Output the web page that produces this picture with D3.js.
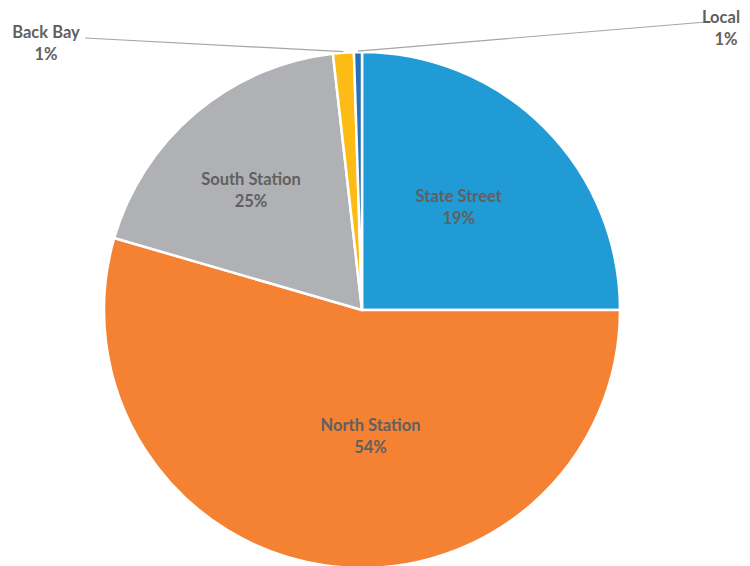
<!DOCTYPE html>
<meta charset="utf-8">
<style>
  body { margin: 0; background: #fff; }
  svg { display: block; font-family: Lato, "Open Sans", sans-serif; }
</style>
<svg width="750" height="566"></svg>
<script src="https://d3js.org/d3.v7.min.js"></script>
<script>

// slice order follows the chart, clockwise from 12 o'clock
var stations = ["State Street", "North Station", "South Station", "Back Bay", "Local"],
    shares = [25, 54.5, 18.7, 1.3, 0.5],
    shareLabels = ["19%", "54%", "25%", "1%", "1%"],
    colors = ["#219bd6", "#f58133", "#b0b1b4", "#fdbb15", "#2472b9"];

var width = 750,
    height = 566,
    cx = 362,
    cy = 310,
    radius = 258,
    fontSize = 16.5;

var svg = d3.select("svg"),
    g = svg.append("g").attr("transform", "translate(" + cx + "," + cy + ")");

var pie = d3.pie().sort(null).value(function(d) { return d; }),
    arcs = pie(shares),
    arc = d3.arc().innerRadius(0).outerRadius(radius);

g.selectAll("path.slice")
    .data(arcs)
  .enter().append("path")
    .attr("class", "slice")
    .attr("d", arc)
    .attr("fill", function(d, i) { return colors[i]; })
    .attr("stroke", "#fff")
    .attr("stroke-width", 2.5)
    .attr("stroke-linejoin", "round");

// inside labels: radius fraction and angle nudge (degrees) per slice
var inside = [[0.55, -2], [0.485, -12], [0.635, -2.5]];

function polar(r, a) {
  return [r * Math.sin(a), -r * Math.cos(a)];
}

inside.forEach(function(p, i) {
  var d = arcs[i],
      mid = (d.startAngle + d.endAngle) / 2 + p[1] * Math.PI / 180,
      pt = polar(radius * p[0], mid);
  var t = g.append("text")
      .attr("text-anchor", "middle")
      .attr("fill", "#606060")
      .attr("font-weight", "bold")
      .attr("font-size", fontSize)
      .attr("transform", "translate(" + pt[0] + "," + pt[1] + ")");
  t.append("tspan").attr("x", 0).attr("y", -4).text(stations[i]);
  t.append("tspan").attr("x", 0).attr("y", 18).text(shareLabels[i]);
});

// outside labels with leader lines (positions relative to the svg)
var outside = [
  {i: 3, tx: 46, ty: 38, lx: 85, ly: 38, dx: 0},
  {i: 4, tx: 721, ty: 23, lx: 706, ly: 22, dx: 5}
];

outside.forEach(function(o) {
  var d = arcs[o.i],
      mid = (d.startAngle + d.endAngle) / 2,
      edge = polar(radius + 1, mid);
  svg.append("line")
      .attr("x1", o.lx).attr("y1", o.ly)
      .attr("x2", cx + edge[0]).attr("y2", cy + edge[1])
      .attr("stroke", "#a6a6a6")
      .attr("stroke-width", 1.2);
  var t = svg.append("text")
      .attr("text-anchor", "middle")
      .attr("fill", "#606060")
      .attr("font-weight", "bold")
      .attr("font-size", fontSize);
  t.append("tspan").attr("x", o.tx).attr("y", o.ty).text(stations[o.i]);
  t.append("tspan").attr("x", o.tx + o.dx).attr("y", o.ty + 22).text(shareLabels[o.i]);
});

</script>
